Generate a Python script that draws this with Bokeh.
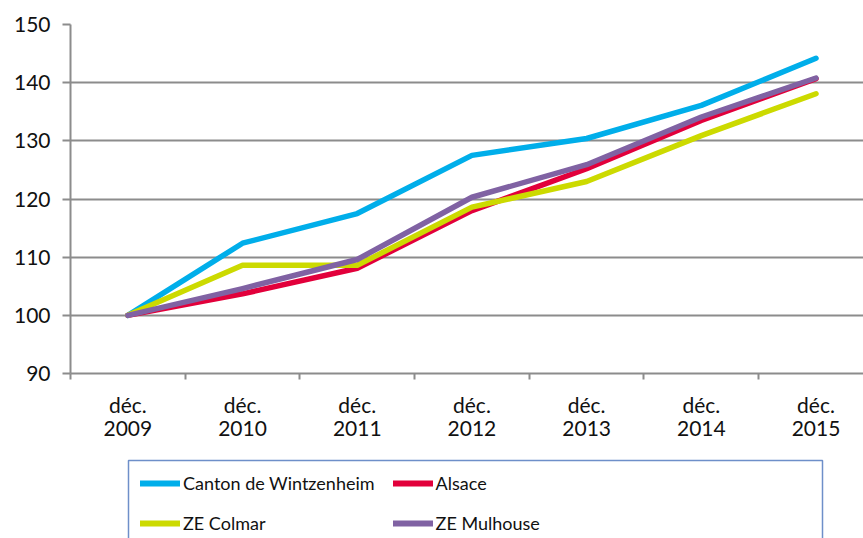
from bokeh.plotting import figure
from bokeh.models import Range1d, FixedTicker, Legend, LegendItem
from bokeh.layouts import column
from bokeh.embed import file_html
from bokeh.resources import INLINE

# ---- data ----
categories = ["déc.\n2009", "déc.\n2010", "déc.\n2011", "déc.\n2012",
              "déc.\n2013", "déc.\n2014", "déc.\n2015"]
canton = [100, 112.4, 117.5, 127.5, 130.4, 136.1, 144.2]
alsace = [100, 103.7, 108.1, 118.0, 125.2, 133.5, 140.7]
colmar = [100, 108.6, 108.6, 118.6, 123.0, 130.9, 138.1]
mulhouse = [100, 104.6, 109.6, 120.3, 125.9, 134.1, 140.8]
y_ticks = [90, 100, 110, 120, 130, 140, 150]

series_names = ["Canton de Wintzenheim", "Alsace", "ZE Colmar", "ZE Mulhouse"]
series_values = [canton, alsace, colmar, mulhouse]
series_colors = ["#00AEEA", "#E2003B", "#CCDA00", "#8062A3"]

FONT = "Lato"
GRID = "#8C8C8C"

xs = list(range(len(categories)))

p = figure(width=863, height=448, output_backend="svg", toolbar_location=None,
           x_range=Range1d(-0.5, 6.414), y_range=Range1d(y_ticks[0], y_ticks[-1]),
           min_border_left=70, min_border_right=0, min_border_top=24,
           min_border_bottom=75)
p.outline_line_color = None
p.background_fill_color = "white"
p.border_fill_color = "white"

for vals, col in zip(series_values, series_colors):
    p.line(xs, vals, line_color=col, line_width=5.5, line_cap="round",
           line_join="round")

# axes
p.xaxis.ticker = FixedTicker(ticks=xs, minor_ticks=[i - 0.5 for i in range(len(categories) + 1)])
p.xaxis.major_label_overrides = {i: c for i, c in enumerate(categories)}
p.xaxis.major_tick_line_color = None
p.xaxis.minor_tick_line_color = GRID
p.xaxis.minor_tick_line_width = 2
p.xaxis.minor_tick_out = 6
p.xaxis.minor_tick_in = 0
p.xaxis.axis_line_color = GRID
p.xaxis.axis_line_width = 2
p.xaxis.major_label_standoff = 12
p.xaxis.major_label_text_font = FONT
p.xaxis.major_label_text_font_size = "21px"
p.xaxis.major_label_text_color = "#111111"
p.xaxis.major_label_text_line_height = 0.95

p.yaxis.ticker = FixedTicker(ticks=y_ticks)
p.yaxis.axis_line_color = GRID
p.yaxis.axis_line_width = 2
p.yaxis.major_tick_line_color = GRID
p.yaxis.major_tick_line_width = 2
p.yaxis.major_tick_out = 8
p.yaxis.major_tick_in = 0
p.yaxis.minor_tick_line_color = None
p.yaxis.major_label_standoff = 12
p.yaxis.major_label_text_font = FONT
p.yaxis.major_label_text_font_size = "21px"
p.yaxis.major_label_text_color = "#111111"

p.xgrid.grid_line_color = None
p.ygrid.ticker = FixedTicker(ticks=y_ticks)
p.ygrid.grid_line_color = GRID
p.ygrid.grid_line_width = 2

# ---- legend panel (frame aligned with the chart frame: x 70..863, y 448..538) ----
q = figure(width=863, height=90, output_backend="svg", toolbar_location=None,
           x_range=Range1d(70, 863), y_range=Range1d(538, 448),
           x_axis_location=None, y_axis_location=None,
           min_border_left=70, min_border_right=0, min_border_top=0,
           min_border_bottom=0)
q.outline_line_color = None
q.xgrid.grid_line_color = None
q.ygrid.grid_line_color = None

q.quad(left=[128], right=[822], top=[460], bottom=[580], fill_color=None,
       line_color="#6E8FC9", line_width=1.5)

items = []
for name, vals, col in zip(series_names, series_values, series_colors):
    r = q.line(xs, vals, line_color=col, line_width=6, line_cap="round",
               visible=False)
    items.append(LegendItem(label=name, renderers=[r]))

leg = Legend(items=items, location=(70, 4), orientation="horizontal", ncols=2,
             padding=0, margin=0, spacing=18, glyph_width=40, glyph_height=20,
             label_standoff=3, label_width=190, label_text_font=FONT,
             label_text_font_size="18px", label_text_color="#111111",
             border_line_color=None, background_fill_alpha=0,
             click_policy="none")
q.add_layout(leg, "center")

layout = column(p, q, spacing=0)
open("out.html", "w").write(file_html(layout, INLINE))
